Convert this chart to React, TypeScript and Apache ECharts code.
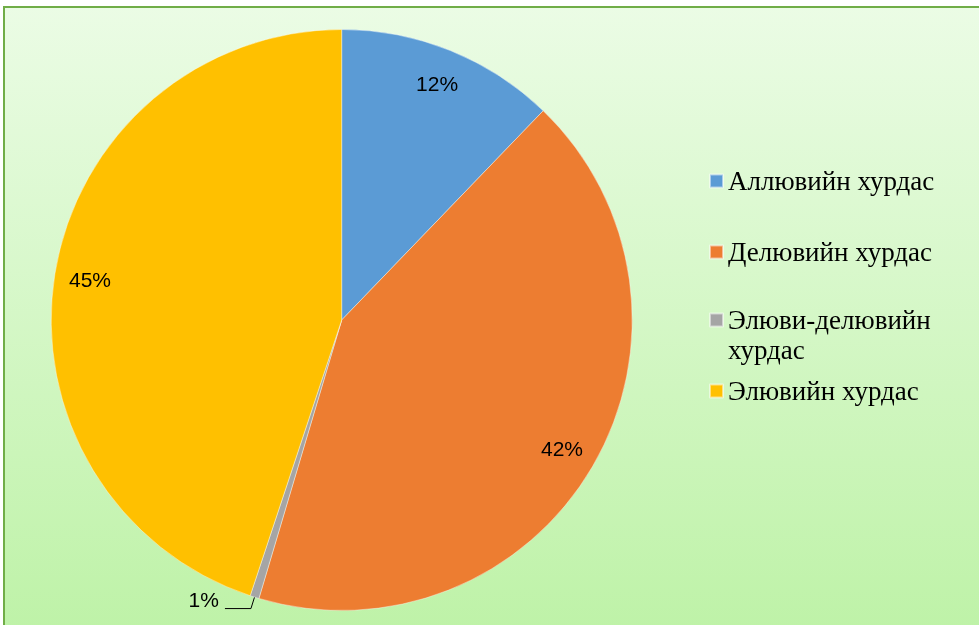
import React, { useEffect, useRef } from "react";
import * as echarts from "echarts";

const categories = [
  "Аллювийн хурдас",
  "Делювийн хурдас",
  "Элюви-делювийн хурдас",
  "Элювийн хурдас",
];
const legendText = [
  "Аллювийн хурдас",
  "Делювийн хурдас",
  "\nЭлюви-делювийн\nхурдас",
  "Элювийн хурдас",
];
const shares = [12.2, 42.4, 0.5, 44.9];
const colors = ["#5b9bd5", "#ed7d31", "#a5a5a5", "#ffc000"];

export default function App() {
  const ref = useRef<HTMLDivElement>(null);
  useEffect(() => {
    if (!ref.current) return;
    const chart = echarts.init(ref.current, null, { renderer: "svg" });
    const center = [341.7, 320];
    const fmt = (p: any) => Math.round(p.percent) + "%";
    const labelFont = {
      fontFamily: "Liberation Sans",
      fontSize: 21,
      color: "#000",
    };
    const legendTops = [166, 237, 275, 376];
    const legends = categories.map((c, i) => ({
      data: [c],
      orient: "vertical",
      left: 709,
      top: legendTops[i],
      padding: 0,
      itemWidth: 13,
      itemHeight: 13,
      itemGap: 6,
      icon: "rect",
      selectedMode: false,
      formatter: (n: string) => legendText[categories.indexOf(n)],
      textStyle: {
        fontFamily: "Liberation Serif",
        fontSize: 27,
        lineHeight: 30,
        color: "#000",
      },
    }));
    chart.setOption({
      animation: false,
      color: colors,
      graphic: [
        {
          type: "rect",
          z: -10,
          silent: true,
          shape: { x: 4, y: 7, width: 990, height: 640 },
          style: {
            fill: {
              type: "linear",
              x: 0,
              y: 0,
              x2: 0,
              y2: 1,
              colorStops: [
                { offset: 0, color: "#ebfce5" },
                { offset: 1, color: "#bdf2a6" },
              ],
            },
            stroke: "#70ad47",
            lineWidth: 2,
          },
        },
      ],
      legend: legends,
      series: [
        {
          type: "pie",
          center,
          radius: 290.5,
          startAngle: 90,
          clockwise: true,
          silent: true,
          avoidLabelOverlap: false,
          emphasis: { disabled: true },
          itemStyle: { borderColor: "rgba(255,255,255,0.5)", borderWidth: 0.8 },
          label: { show: false },
          labelLine: { show: false },
          data: categories.map((c, i) =>
            i === 2
              ? {
                  name: c,
                  value: shares[i],
                  label: {
                    show: true,
                    position: "outside",
                    formatter: (p: any) => fmt(p) + "\n ",
                    ...labelFont,
                    lineHeight: 18,
                    distanceToLabelLine: 6,
                  },
                  labelLine: {
                    show: true,
                    length: 12,
                    length2: 26,
                    lineStyle: { color: "#000", width: 1 },
                  },
                }
              : { name: c, value: shares[i] }
          ),
        },
        {
          type: "pie",
          center,
          radius: [204, 300],
          startAngle: 90,
          clockwise: true,
          silent: true,
          avoidLabelOverlap: false,
          emphasis: { disabled: true },
          itemStyle: { color: "rgba(0,0,0,0)", borderWidth: 0 },
          label: {
            show: true,
            position: "inside",
            formatter: fmt,
            ...labelFont,
          },
          labelLine: { show: false },
          data: categories.map((c, i) =>
            i === 2
              ? { name: c, value: shares[i], label: { show: false } }
              : { name: c, value: shares[i] }
          ),
        },
      ],
    });
    return () => chart.dispose();
  }, []);
  return (
    <div
      ref={ref}
      style={{ position: "fixed", left: 0, top: 0, width: 979, height: 625 }}
    />
  );
}
